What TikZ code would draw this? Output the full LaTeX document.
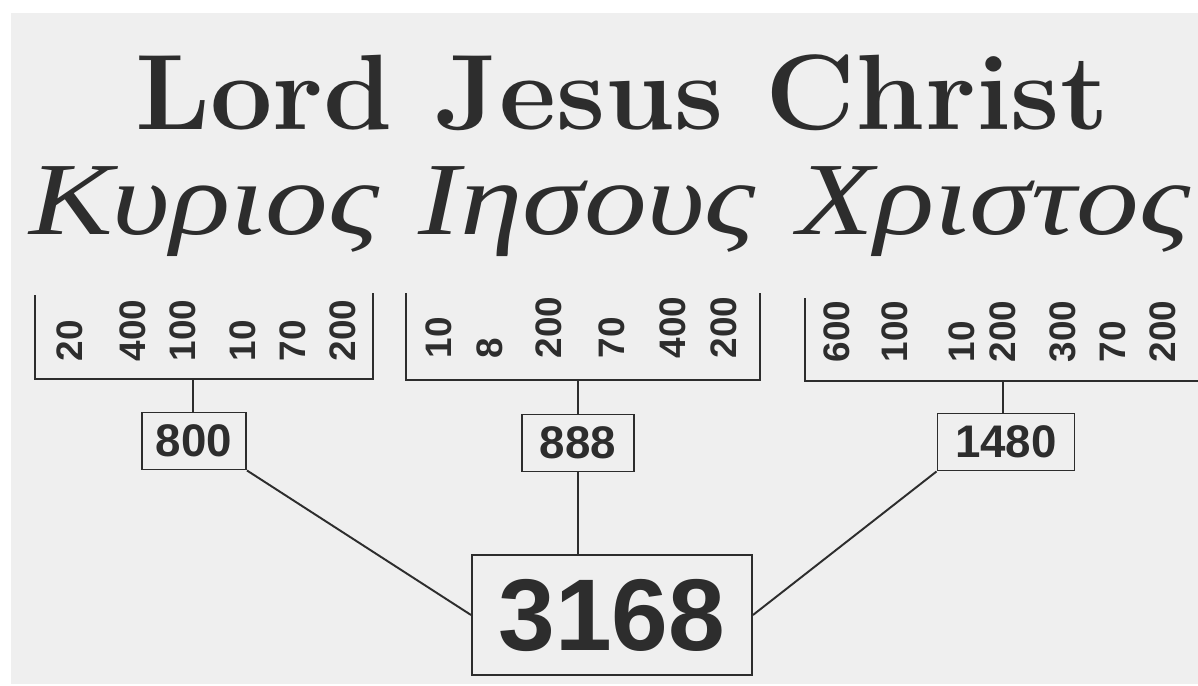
\documentclass[tikz,border=0pt]{standalone}
\usepackage{fontspec}
\newfontfamily\greekfont{Liberation Serif}
\newfontfamily\numfont{Liberation Sans}
\definecolor{paper}{RGB}{239, 239, 239}
\definecolor{ink}{RGB}{45, 45, 45}
\usepackage{tikz}
\usetikzlibrary{positioning}

\newcommand{\wideword}[2][1.21]{\scalebox{#1}[1]{#2}}

\begin{document}
\begin{tikzpicture}[x=0.02cm, y=-0.02cm, line width=1.1pt, draw=ink,
    letter/.style={rotate=90, anchor=west, inner sep=0pt, text=ink,
                   font=\numfont\bfseries\fontsize{21}{21}\selectfont},
    sumbox/.style={draw=ink, inner sep=0pt, minimum height=57*0.02cm, text=ink,
                   font=\numfont\bfseries\fontsize{26}{26}\selectfont},
    greekword/.style={anchor=base, inner sep=0pt, text=ink,
                      font=\greekfont\itshape\fontsize{59}{59}\selectfont}]
  % page and paper
  \fill[white] (0,0) rectangle (1198,686);
  \fill[paper] (11,13) rectangle (1198,684);
  \useasboundingbox (0,0) rectangle (1198,686);

  % headings
  \node[anchor=base, inner sep=0pt, text=ink,
        font=\bfseries\fontsize{61}{61}\selectfont] (title) at (622,130)
        {\wideword[1.035]{Lord Jesus Christ}};
  \node[greekword] (kyrios) at (204,235) {\wideword{Κυριος}};
  \node[greekword] (iesous) at (587,235) {\wideword{Ιησους}};
  \node[greekword] (christos) at (994,235) {\wideword{Χριστος}};

  % Kyrios
  \draw (35,295) -- (35,379) -- (373,379) -- (373,293);
  \foreach \v/\x in {20/70, 400/133, 100/183, 10/243, 70/293, 200/343}
    \node[letter] at (\x,362) {\v};
  \coordinate (kbar) at (193,379);
  \node[sumbox, minimum width=104*0.02cm] (b800) at (194,441) {800};

  % Iesous
  \draw (406,293) -- (406,380) -- (760,380) -- (760,293);
  \foreach \v/\x in {10/439, 8/490, 200/549, 70/612, 400/673, 200/724}
    \node[letter] at (\x,359) {\v};
  \coordinate (ibar) at (578,380);
  \node[sumbox, minimum width=112*0.02cm] (b888) at (578,443) {888};

  % Christos
  \draw (805,298) -- (805,381) -- (1205,381);
  \foreach \v/\x in {600/837, 100/895, 10/962, 200/1003, 300/1063, 70/1113, 200/1163}
    \node[letter] at (\x,363) {\v};
  \coordinate (cbar) at (1003,381);
  \node[sumbox, minimum width=137*0.02cm] (b1480) at (1006,442) {1480};

  % total
  \node[draw=ink, inner sep=0pt, minimum width=280*0.02cm,
        minimum height=120*0.02cm, text=ink,
        font=\numfont\bfseries\fontsize{58}{58}\selectfont] (total) at (612,615) {3168};

  \draw (kbar) -- (kbar |- b800.north);
  \draw (ibar) -- (b888.north);
  \draw (cbar) -- (cbar |- b1480.north);
  \draw (b800.south east) -- (total.west);
  \draw (b888.south) -- (b888.south |- total.north);
  \draw (b1480.south west) -- (total.east);
\end{tikzpicture}
\end{document}
